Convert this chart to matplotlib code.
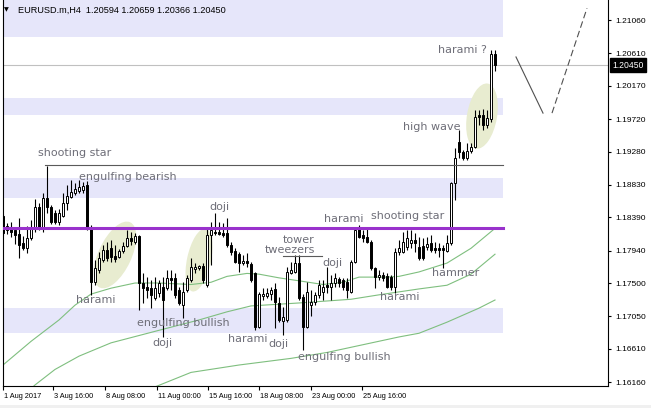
import matplotlib
matplotlib.use("Agg")
import matplotlib.pyplot as plt
from matplotlib.patches import Ellipse, Rectangle
from matplotlib.transforms import ScaledTranslation, blended_transform_factory
import numpy as np

# EURUSD.m H4 candles (1 Aug 2017 .. 29 Aug 2017)
opens = [1.1841, 1.1822, 1.1825, 1.1822, 1.1816, 1.1804, 1.1797, 1.1811, 1.1823, 1.1853,
         1.1823, 1.1865, 1.1853, 1.1845, 1.1832, 1.1841, 1.1858, 1.1866, 1.1872, 1.1874,
         1.1876, 1.1883, 1.1825, 1.1751, 1.1767, 1.1781, 1.1795, 1.1797, 1.1786, 1.1785,
         1.1793, 1.1800, 1.1811, 1.1805, 1.1814, 1.1750, 1.1744, 1.1743, 1.1730, 1.1736,
         1.1744, 1.1743, 1.1757, 1.1757, 1.1740, 1.1720, 1.1740, 1.1754, 1.1769, 1.1770,
         1.1773, 1.1747, 1.1815, 1.1819, 1.1819, 1.1818, 1.1818, 1.1801, 1.1793, 1.1789,
         1.1777, 1.1780, 1.1776, 1.1763, 1.1690, 1.1732, 1.1732, 1.1735, 1.1742, 1.1723,
         1.1698, 1.1700, 1.1763, 1.1765, 1.1777, 1.1731, 1.1690, 1.1720, 1.1724, 1.1734,
         1.1738, 1.1747, 1.1744, 1.1750, 1.1755, 1.1754, 1.1751, 1.1738, 1.1778, 1.1823,
         1.1815, 1.1812, 1.1805, 1.1770, 1.1758, 1.1761, 1.1759, 1.1758, 1.1744, 1.1792,
         1.1792, 1.1799, 1.1804, 1.1808, 1.1799, 1.1800, 1.1799, 1.1804, 1.1797, 1.1797,
         1.1797, 1.1793, 1.1804, 1.1885, 1.1941, 1.1927, 1.1919, 1.1929, 1.1934, 1.1977,
         1.1977, 1.1964, 1.1972, 1.20594]
highs = [1.1843, 1.1831, 1.1832, 1.1825, 1.1838, 1.1814, 1.1827, 1.1835, 1.1864, 1.1858,
         1.1872, 1.1908, 1.1855, 1.1849, 1.1850, 1.1872, 1.1883, 1.1889, 1.1885, 1.1889,
         1.1887, 1.1888, 1.1828, 1.1781, 1.1792, 1.1801, 1.1805, 1.1808, 1.1801, 1.1796,
         1.1805, 1.1822, 1.1819, 1.1818, 1.1815, 1.1763, 1.1758, 1.1754, 1.1758, 1.1754,
         1.1758, 1.1767, 1.1767, 1.1763, 1.1744, 1.1751, 1.1761, 1.1784, 1.1777, 1.1774,
         1.1777, 1.1823, 1.1832, 1.1845, 1.1832, 1.1831, 1.1838, 1.1805, 1.1797, 1.1792,
         1.1788, 1.1791, 1.1778, 1.1765, 1.1738, 1.1743, 1.1743, 1.1744, 1.1750, 1.1731,
         1.1717, 1.1772, 1.1778, 1.1788, 1.1788, 1.1735, 1.1751, 1.1740, 1.1738, 1.1754,
         1.1754, 1.1772, 1.1761, 1.1763, 1.1758, 1.1757, 1.1757, 1.1781, 1.1825, 1.1828,
         1.1822, 1.1824, 1.1808, 1.1772, 1.1767, 1.1765, 1.1763, 1.1761, 1.1797, 1.1808,
         1.1819, 1.1822, 1.1822, 1.1818, 1.1812, 1.1811, 1.1812, 1.1815, 1.1805, 1.1804,
         1.1801, 1.1815, 1.1887, 1.1933, 1.1957, 1.1930, 1.1939, 1.1939, 1.1984, 1.1984,
         1.1985, 1.1984, 1.2065, 1.20659]
lows = [1.1815, 1.1816, 1.1812, 1.1803, 1.1784, 1.1795, 1.1791, 1.1808, 1.1819, 1.1822,
        1.1819, 1.1845, 1.1830, 1.1830, 1.1828, 1.1839, 1.1849, 1.1865, 1.1869, 1.1872,
        1.1872, 1.1822, 1.1734, 1.1747, 1.1763, 1.1778, 1.1780, 1.1778, 1.1778, 1.1784,
        1.1791, 1.1799, 1.1801, 1.1803, 1.1713, 1.1723, 1.1730, 1.1716, 1.1727, 1.1731,
        1.1677, 1.1740, 1.1740, 1.1730, 1.1720, 1.1702, 1.1738, 1.1751, 1.1763, 1.1767,
        1.1750, 1.1744, 1.1774, 1.1815, 1.1815, 1.1812, 1.1799, 1.1788, 1.1777, 1.1765,
        1.1774, 1.1772, 1.1751, 1.1686, 1.1689, 1.1727, 1.1730, 1.1727, 1.1689, 1.1697,
        1.1680, 1.1697, 1.1762, 1.1763, 1.1727, 1.1659, 1.1689, 1.1706, 1.1720, 1.1730,
        1.1727, 1.1736, 1.1727, 1.1744, 1.1744, 1.1740, 1.1730, 1.1736, 1.1777, 1.1811,
        1.1805, 1.1804, 1.1767, 1.1743, 1.1754, 1.1753, 1.1743, 1.1740, 1.1736, 1.1788,
        1.1791, 1.1795, 1.1797, 1.1792, 1.1781, 1.1781, 1.1795, 1.1792, 1.1791, 1.1785,
        1.1770, 1.1792, 1.1801, 1.1862, 1.1919, 1.1916, 1.1916, 1.1926, 1.1933, 1.1964,
        1.1957, 1.1960, 1.1968, 1.20366]
closes = [1.1818, 1.1827, 1.1819, 1.1815, 1.1801, 1.1797, 1.1811, 1.1823, 1.1853, 1.1823,
          1.1865, 1.1853, 1.1832, 1.1832, 1.1845, 1.1858, 1.1868, 1.1873, 1.1877, 1.1880,
          1.1881, 1.1825, 1.1751, 1.1770, 1.1784, 1.1795, 1.1784, 1.1785, 1.1782, 1.1793,
          1.1800, 1.1811, 1.1807, 1.1814, 1.1750, 1.1743, 1.1740, 1.1734, 1.1743, 1.1750,
          1.1727, 1.1757, 1.1754, 1.1734, 1.1723, 1.1738, 1.1757, 1.1772, 1.1772, 1.1773,
          1.1754, 1.1815, 1.1822, 1.1818, 1.1816, 1.1815, 1.1801, 1.1792, 1.1778, 1.1777,
          1.1780, 1.1777, 1.1754, 1.1690, 1.1735, 1.1735, 1.1736, 1.1740, 1.1724, 1.1700,
          1.1704, 1.1765, 1.1767, 1.1777, 1.1730, 1.1690, 1.1738, 1.1724, 1.1734, 1.1747,
          1.1744, 1.1744, 1.1750, 1.1757, 1.1750, 1.1744, 1.1740, 1.1778, 1.1822, 1.1812,
          1.1811, 1.1805, 1.1770, 1.1758, 1.1761, 1.1757, 1.1744, 1.1744, 1.1792, 1.1797,
          1.1805, 1.1811, 1.1808, 1.1804, 1.1784, 1.1784, 1.1803, 1.1795, 1.1795, 1.1795,
          1.1795, 1.1804, 1.1885, 1.1919, 1.1927, 1.1919, 1.1929, 1.1934, 1.1975, 1.1975,
          1.1964, 1.1973, 1.2060, 1.20450]

# moving averages, sampled at some bars
ma1_bar = [0, 7, 14, 18, 22, 27, 33, 39, 47, 52, 56, 61, 64, 69, 74, 80, 85, 89, 96, 99, 104, 111, 117, 123]
ma1_val = [1.1639, 1.1671, 1.1700, 1.1720, 1.1735, 1.1743, 1.1750, 1.1750, 1.1748, 1.1751, 1.1759, 1.1763,
           1.1762, 1.1757, 1.1753, 1.1748, 1.1751, 1.1758, 1.1758, 1.1759, 1.1765, 1.1777, 1.1797, 1.1824]
ma2_bar = [6, 8, 13, 19, 27, 39, 49, 56, 62, 74, 87, 94, 104, 111, 117, 123]
ma2_val = [1.1602, 1.1612, 1.1633, 1.1651, 1.1669, 1.1686, 1.1700, 1.1711, 1.1719, 1.1723, 1.1728,
           1.1734, 1.1742, 1.1747, 1.1762, 1.1789]
ma3_bar = [36, 47, 59, 72, 81, 87, 99, 104, 111, 119, 123]
ma3_val = [1.1605, 1.1629, 1.1639, 1.1648, 1.1656, 1.1663, 1.1677, 1.1682, 1.1697, 1.1716, 1.1727]

# support / resistance zones
zone_top = [1.2133, 1.2000, 1.1892, 1.1716]
zone_bot = [1.2083, 1.1977, 1.1865, 1.1682]
zone_end = 125

purple_level = 1.1825
star_level = 1.1910
star_start = 10.5
tweezer_level = 1.1786
tweezer_span = [70, 79.75]
last_price = closes[-1]

# projected move
proj_solid_x = [128.25, 135]
proj_solid_y = [1.2056, 1.1980]
proj_dash_x = [137.25, 146]
proj_dash_y = [1.1980, 1.2122]

# pattern labels: (text, bar, price)
labels = [("shooting star", 8.75, 1.1926), ("engulfing bearish", 19, 1.1893),
          ("harami", 18.25, 1.1727), ("doji", 51.5, 1.1853),
          ("engulfing bullish", 33.5, 1.1696), ("doji", 37.25, 1.1669),
          ("harami", 56.25, 1.1674), ("doji", 66.25, 1.1667),
          ("tower", 70, 1.1808), ("tweezers", 65.5, 1.1795),
          ("engulfing bullish", 73.75, 1.1650), ("doji", 79.75, 1.1777),
          ("harami", 80.25, 1.1836), ("shooting star", 92, 1.1841),
          ("harami", 94.25, 1.1731), ("hammer", 107.25, 1.1763),
          ("high wave", 100, 1.1961), ("harami ?", 108.75, 1.2065)]

# ellipses: bar, price, major(in), minor(in), angle
ellipses = [(28, 1.1788, 0.72, 0.33, 65), (49, 1.1781, 0.64, 0.24, 78), (119.75, 1.1976, 0.66, 0.30, 80)]

time_pos = [-0.1, 12.6, 25.5, 38.4, 51.3, 64.1, 77.0, 89.8]
time_lbl = ['1 Aug 2017', '3 Aug 16:00', '8 Aug 08:00', '11 Aug 00:00',
            '15 Aug 16:00', '18 Aug 08:00', '23 Aug 00:00', '25 Aug 16:00']
price_ticks = [1.2106, 1.2061, 1.2017, 1.1972, 1.1928, 1.1883, 1.1839, 1.1794, 1.1750, 1.1705, 1.1661, 1.1616]

plt.rcParams['font.family'] = ['DejaVu Sans']
small_font = ['Liberation Sans', 'DejaVu Sans']

W, H = 651, 408
fig = plt.figure(figsize=(W / 100, H / 100), dpi=100)
ax = fig.add_axes([2.5 / W, 22 / H, (608 - 2.5) / W, 386 / H])
ax.set_xlim(-0.125, 151.25)
ax.set_ylim(1.16106, 1.21331)

x_left = -0.125
for top, bot in zip(zone_top, zone_bot):
    ax.add_patch(Rectangle((x_left, bot), zone_end - x_left, top - bot,
                           facecolor='#e6e6fa', edgecolor='none', zorder=0))

for cx, cy, w, h, ang in ellipses:
    tr = fig.dpi_scale_trans + ScaledTranslation(cx, cy, ax.transData)
    ax.add_patch(Ellipse((0, 0), w, h, angle=ang, transform=tr,
                         facecolor='#e8ecd0', edgecolor='none', zorder=1))

ax.plot(ma1_bar, ma1_val, color='#7fbf7f', lw=0.8, zorder=2)
ax.plot(ma2_bar, ma2_val, color='#7fbf7f', lw=0.8, zorder=2)
ax.plot(ma3_bar, ma3_val, color='#7fbf7f', lw=0.8, zorder=2)

ax.axhline(last_price, color='#c0c0c0', lw=0.8, zorder=2)

# candles
x = np.arange(len(opens))
o = np.array(opens)
c = np.array(closes)
up = c >= o
ax.vlines(x, lows, highs, color='black', lw=0.8, zorder=3)
ax.bar(x[up], (c - o)[up], bottom=o[up], width=0.5, facecolor='white',
       edgecolor='black', linewidth=0.7, zorder=4)
ax.bar(x[~up], (o - c)[~up], bottom=c[~up], width=0.5, facecolor='black',
       edgecolor='black', linewidth=0.7, zorder=4)

ax.plot([x_left, zone_end], [purple_level, purple_level], color='#9932cc', lw=2.2, zorder=5)
ax.plot([star_start, zone_end], [star_level, star_level], color='#5a5a5a', lw=0.8, zorder=5)
ax.plot(tweezer_span, [tweezer_level, tweezer_level], color='#5a5a5a', lw=0.8, zorder=5)

ax.plot(proj_solid_x, proj_solid_y, color='#505050', lw=0.8, zorder=5)
ax.plot(proj_dash_x, proj_dash_y, color='#505050', lw=0.8, ls=(0, (6, 3)), zorder=5)

for txt, bx, py in labels:
    ax.text(bx, py, txt, fontsize=8, color='#6e6e78', va='center', ha='left', zorder=6)

# axes look
ax.spines['top'].set_visible(False)
for s in ['left', 'right', 'bottom']:
    ax.spines[s].set_linewidth(0.8)
ax.yaxis.tick_right()
ax.set_yticks(price_ticks)
ax.set_yticklabels(['%.5f' % p for p in price_ticks], family=small_font)
ax.tick_params(axis='y', direction='out', length=2.5, width=0.8, pad=2.5, labelsize=6)
ax.set_xticks(time_pos)
ax.set_xticklabels(time_lbl, family=small_font, ha='left')
ax.tick_params(axis='x', direction='out', length=3, width=0.8, pad=1.8, labelsize=5.3)
for lb in ax.get_xticklabels():
    lb.set_transform(lb.get_transform() + ScaledTranslation(1 / 100, 0, fig.dpi_scale_trans))

# current price tag
btr = blended_transform_factory(ax.transAxes, ax.transData)
ax.text(1.007, last_price, '%.5f' % last_price, transform=btr, ha='left', va='center',
        color='white', fontsize=6.2, family=small_font,
        bbox=dict(facecolor='black', edgecolor='black', boxstyle='square,pad=0.28'))

# header
fig.text(4 / W, 1 - 10 / H, '\u25bc', fontsize=4.5, va='center', ha='left')
head = 'EURUSD.m,H4  %.5f %.5f %.5f %.5f' % (opens[-1], highs[-1], lows[-1], closes[-1])
fig.text(18 / W, 1 - 10 / H, head, fontsize=6.6, va='center', ha='left', family=small_font)

fig.patches.append(Rectangle((0, 0), 1, 3 / H, transform=fig.transFigure,
                             facecolor='#f0f0f0', edgecolor='none'))

fig.savefig('out.png', dpi=100)
